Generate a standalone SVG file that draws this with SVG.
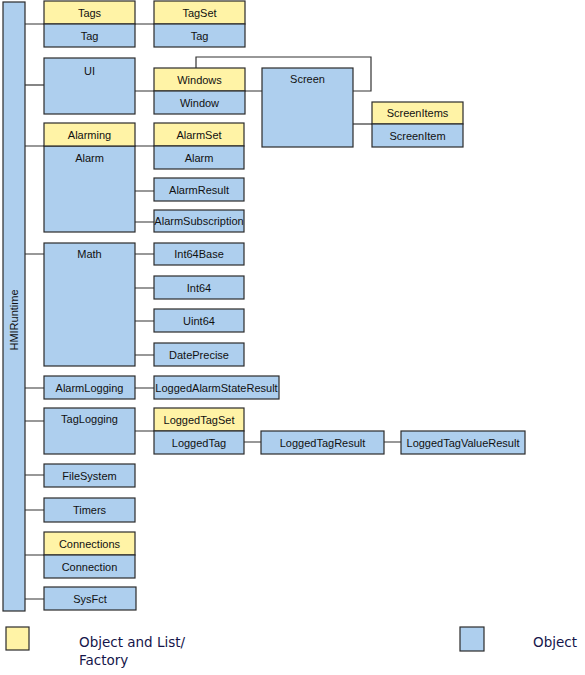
<svg xmlns="http://www.w3.org/2000/svg" width="585" height="675" viewBox="0 0 585 675">
<style>
.y{fill:#FFF3A6;stroke:#2b2b2b;stroke-width:1.2}
.b{fill:#AECFEE;stroke:#2b2b2b;stroke-width:1.2}
.d{stroke:#2b2b2b;stroke-width:1.2;fill:none}
.c{stroke:#333;stroke-width:1.2;fill:none}
text{font-family:"Liberation Sans",Arial,sans-serif;font-size:11px;fill:#111;text-anchor:middle}
.lg{font-family:"DejaVu Sans","Noto Sans",sans-serif;font-size:13.5px;fill:#15154a;text-anchor:start}
</style>
<rect width="585" height="675" fill="#fff"/>
<g id="connectors" class="c">
<path d="M25,24H154"/>
<path d="M25,85H44"/>
<path d="M135,91H154M245,91H262"/>
<path d="M196,68V57H371V91H353"/>
<path d="M353,124H372"/>
<path d="M25,146H154"/>
<path d="M135,191H154M135,222H154"/>
<path d="M25,254H44M135,254H154M135,288H154M135,321H154M135,355H154"/>
<path d="M25,388H44M135,388H154"/>
<path d="M25,421H44M135,431H154M244,442H261M384,442H401"/>
<path d="M25,475H44M25,510H44M25,555H44M25,599H44"/>
</g>
<g id="HMIRuntime"><rect class="b" x="3" y="2" width="22" height="609"/><text transform="translate(17.5,320) rotate(-90)">HMIRuntime</text></g>
<g id="Tags"><rect class="y" x="44" y="1" width="91" height="23"/><rect class="b" x="44" y="24" width="91" height="23"/><text x="89.5" y="16.5">Tags</text><text x="89.5" y="39.5">Tag</text></g>
<g id="TagSet"><rect class="y" x="154" y="1" width="91" height="23"/><rect class="b" x="154" y="24" width="91" height="23"/><text x="199.5" y="16.5">TagSet</text><text x="199.5" y="39.5">Tag</text></g>
<g id="UI"><rect class="b" x="44" y="58" width="91" height="56"/><text x="89.5" y="75">UI</text></g>
<g id="Windows"><rect class="y" x="154" y="68" width="91" height="23"/><rect class="b" x="154" y="91" width="91" height="23"/><text x="199.5" y="83.5">Windows</text><text x="199.5" y="106.5">Window</text></g>
<g id="Screen"><rect class="b" x="262" y="68" width="91" height="79"/><text x="307.5" y="83">Screen</text></g>
<g id="ScreenItems"><rect class="y" x="372" y="102" width="91" height="22"/><rect class="b" x="372" y="124" width="91" height="23"/><text x="417.5" y="117">ScreenItems</text><text x="417.5" y="139.5">ScreenItem</text></g>
<g id="Alarming"><rect class="b" x="44" y="146" width="91" height="86"/><rect class="y" x="44" y="123" width="91" height="23"/><text x="89.5" y="138.5">Alarming</text><text x="89.5" y="161.5">Alarm</text></g>
<g id="AlarmSet"><rect class="y" x="154" y="123" width="90" height="23"/><rect class="b" x="154" y="146" width="90" height="23"/><text x="199" y="138.5">AlarmSet</text><text x="199" y="161.5">Alarm</text></g>
<g id="AlarmResult"><rect class="b" x="154" y="178" width="90" height="23"/><text x="199" y="193.5">AlarmResult</text></g>
<g id="AlarmSubscription"><rect class="b" x="154" y="210" width="90" height="22"/><text x="199" y="225">AlarmSubscription</text></g>
<g id="Math"><rect class="b" x="44" y="243" width="91" height="123"/><text x="89.5" y="258">Math</text></g>
<g id="Int64Base"><rect class="b" x="154" y="243" width="90" height="22"/><text x="199" y="258">Int64Base</text></g>
<g id="Int64"><rect class="b" x="154" y="276" width="90" height="23"/><text x="199" y="291.5">Int64</text></g>
<g id="Uint64"><rect class="b" x="154" y="309" width="90" height="23"/><text x="199" y="324.5">Uint64</text></g>
<g id="DatePrecise"><rect class="b" x="154" y="343" width="90" height="23"/><text x="199" y="358.5">DatePrecise</text></g>
<g id="AlarmLogging"><rect class="b" x="44" y="376" width="91" height="23"/><text x="89.5" y="391.5">AlarmLogging</text></g>
<g id="LoggedAlarmStateResult"><rect class="b" x="154" y="376" width="125" height="23"/><text x="216.5" y="391.5">LoggedAlarmStateResult</text></g>
<g id="TagLogging"><rect class="b" x="44" y="408" width="91" height="46"/><text x="89.5" y="423">TagLogging</text></g>
<g id="LoggedTagSet"><rect class="y" x="154" y="408" width="90" height="23"/><rect class="b" x="154" y="431" width="90" height="23"/><text x="199" y="423.5">LoggedTagSet</text><text x="199" y="446.5">LoggedTag</text></g>
<g id="LoggedTagResult"><rect class="b" x="261" y="431" width="123" height="23"/><text x="322.5" y="446.5">LoggedTagResult</text></g>
<g id="LoggedTagValueResult"><rect class="b" x="401" y="431" width="124" height="23"/><text x="463" y="446.5">LoggedTagValueResult</text></g>
<g id="FileSystem"><rect class="b" x="44" y="464" width="91" height="23"/><text x="89.5" y="479.5">FileSystem</text></g>
<g id="Timers"><rect class="b" x="44" y="498" width="91" height="24"/><text x="89.5" y="514">Timers</text></g>
<g id="Connections"><rect class="y" x="44" y="532" width="91" height="23"/><rect class="b" x="44" y="555" width="91" height="23"/><text x="89.5" y="547.5">Connections</text><text x="89.5" y="570.5">Connection</text></g>
<g id="SysFct"><rect class="b" x="44" y="587" width="92" height="23"/><text x="90" y="602.5">SysFct</text></g>
<g id="legend">
<rect class="y" x="6" y="627" width="23" height="23"/>
<text class="lg" x="79" y="647">Object and List/</text>
<text class="lg" x="79" y="665">Factory</text>
<rect class="b" x="460" y="627" width="24" height="24"/>
<text class="lg" x="533" y="647">Object</text>
</g>
</svg>
